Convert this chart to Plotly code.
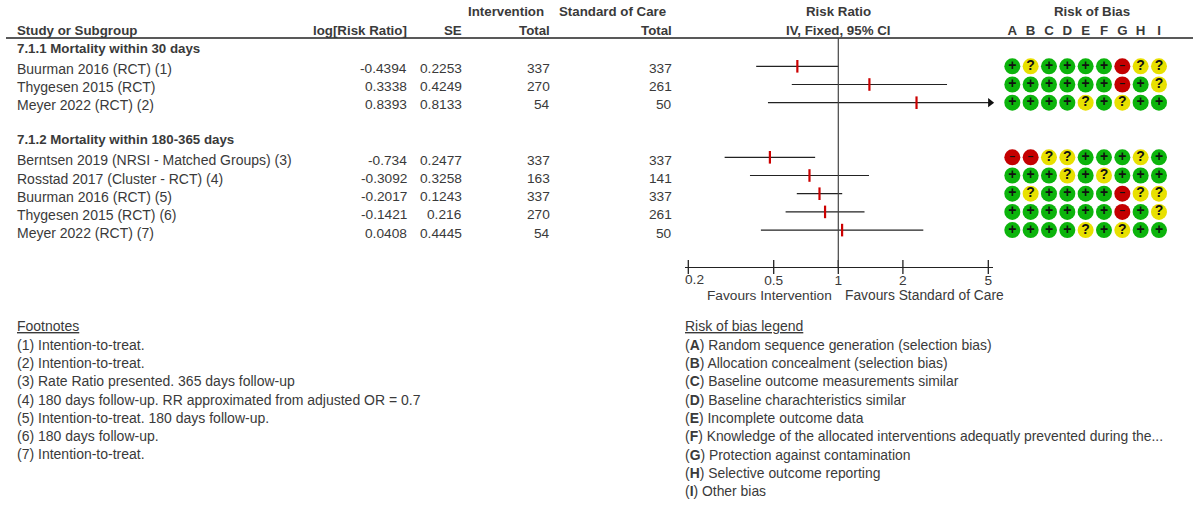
import math
import plotly.graph_objects as go

W, H = 1200, 505
TXT = "#3a3a3a"
FONT = "Liberation Sans"
FS = 14
FS_BOLD = 13.3
FS_NUM = 13.7

studies = ["Buurman 2016 (RCT) (1)", "Thygesen 2015 (RCT)", "Meyer 2022 (RCT) (2)",
           "Berntsen 2019 (NRSI - Matched Groups) (3)", "Rosstad 2017 (Cluster - RCT) (4)",
           "Buurman 2016 (RCT) (5)", "Thygesen 2015 (RCT) (6)", "Meyer 2022 (RCT) (7)"]
rows = [1, 2, 3, 6, 7, 8, 9, 10]
log_rr = [-0.4394, 0.3338, 0.8393, -0.734, -0.3092, -0.2017, -0.1421, 0.0408]
log_rr_text = ["-0.4394", "0.3338", "0.8393", "-0.734", "-0.3092", "-0.2017", "-0.1421", "0.0408"]
se = [0.2253, 0.4249, 0.8133, 0.2477, 0.3258, 0.1243, 0.216, 0.4445]
n_int = [337, 270, 54, 337, 163, 337, 270, 54]
n_soc = [337, 261, 50, 337, 141, 337, 261, 50]
sections = [(0, "7.1.1 Mortality within 30 days"), (5, "7.1.2 Mortality within 180-365 days")]
domains = ["A", "B", "C", "D", "E", "F", "G", "H", "I"]
rob = ["+?++++-??", "++++++-+?", "++++?+?++",
       "--??+++?+", "+++?+?+++", "+?++++-??", "++++++-+?", "++++?+?++"]
ticks = [0.2, 0.5, 1, 2, 5]
footnotes = ["(1) Intention-to-treat.", "(2) Intention-to-treat.",
             "(3) Rate Ratio presented. 365 days follow-up",
             "(4) 180 days follow-up. RR approximated from adjusted OR = 0.7",
             "(5) Intention-to-treat. 180 days follow-up.", "(6) 180 days follow-up.",
             "(7) Intention-to-treat."]
legend_items = [("A", "Random sequence generation (selection bias)"),
                ("B", "Allocation concealment (selection bias)"),
                ("C", "Baseline outcome measurements similar"),
                ("D", "Baseline charachteristics similar"),
                ("E", "Incomplete outcome data"),
                ("F", "Knowledge of the allocated interventions adequatly prevented during the..."),
                ("G", "Protection against contamination"),
                ("H", "Selective outcome reporting"),
                ("I", "Other bias")]

X_MAX_DRAW = 5.1
px_per_dec = (988.3 - 838.3) / math.log10(5)
F_L, F_R = 684.7, 993.3
xr = [(F_L - 838.3) / px_per_dec, (F_R - 838.3) / px_per_dec]
R0, RSTEP = 48.1, 18.2
yr = [(H - R0) / RSTEP, -R0 / RSTEP]
AX_ROW = (267 - R0) / RSTEP

fig = go.Figure()
# CI lines
for r, m, s in zip(rows, log_rr, se):
    lo, hi = math.exp(m - 1.96 * s), math.exp(m + 1.96 * s)
    fig.add_trace(go.Scatter(x=[lo, min(hi, X_MAX_DRAW)], y=[r, r], mode="lines",
                             line=dict(color="#222222", width=1.2), xaxis="x", yaxis="y",
                             showlegend=False, hoverinfo="skip", cliponaxis=False))
    if hi > X_MAX_DRAW:
        fig.add_trace(go.Scatter(x=[X_MAX_DRAW], y=[r], mode="markers",
                                 marker=dict(symbol="triangle-right", size=8, color="#111111"),
                                 xaxis="x", yaxis="y", showlegend=False, hoverinfo="skip",
                                 cliponaxis=False))
fig.add_trace(go.Scatter(x=[math.exp(m) for m in log_rr], y=rows, mode="markers",
                         marker=dict(symbol="line-ns", size=9,
                                     line=dict(color="#cc0000", width=2.2)),
                         xaxis="x", yaxis="y", showlegend=False, hoverinfo="skip", cliponaxis=False))
# Axis crossing ticks
fig.add_trace(go.Scatter(x=ticks, y=[AX_ROW] * len(ticks), mode="markers",
                         marker=dict(symbol="line-ns", size=10, line=dict(color="#222222", width=1.3)),
                         xaxis="x", yaxis="y", showlegend=False, hoverinfo="skip", cliponaxis=False))

# Risk of bias
style = {"+": ("#0cb40c", "+", 14), "?": ("#e8e000", "?", 14), "-": ("#c40000", "\u2212", 10)}
for sym, (col, label, fs) in style.items():
    xs, ys = [], []
    for r, line in zip(rows, rob):
        for d, c in zip(domains, line):
            if c == sym:
                xs.append(d)
                ys.append(r)
    fig.add_trace(go.Scatter(x=xs, y=ys, mode="markers+text", text=[label] * len(xs),
                             textposition="middle center",
                             textfont=dict(family=FONT, size=fs, color="#111111", weight="bold"),
                             marker=dict(symbol="circle", size=16, color=col),
                             xaxis="x2", yaxis="y", showlegend=False, hoverinfo="skip",
                             cliponaxis=False))

ann = []
def t(px, py, text, anchor="left", bold=False, size=None, color=TXT):
    s = f"<b>{text}</b>" if bold else text
    size = size or (FS_BOLD if bold else FS)
    shift = {"left": -2, "right": 2, "center": 0}[anchor]
    ann.append(dict(x=px / W, y=1 - py / H, xref="paper", yref="paper", text=s, showarrow=False,
                    xanchor=anchor, yanchor="middle", align=anchor, xshift=shift,
                    font=dict(family=FONT, size=size, color=color)))

# Headers
t(17, 30, "Study or Subgroup", bold=True)
t(407, 30, "log[Risk Ratio]", "right", True)
t(462, 30, "SE", "right", True)
t(544, 11, "Intervention", "right", True)
t(550, 30, "Total", "right", True)
t(666, 11, "Standard of Care", "right", True)
t(672, 30, "Total", "right", True)
t(838, 11, "Risk Ratio", "center", True)
t(838, 30, "IV, Fixed, 95% CI", "center", True)
t(1092, 11, "Risk of Bias", "center", True)

for r, label in sections:
    t(17, R0 + RSTEP * r + (0 if r == 0 else 0.8), label, bold=True)
for r, name, lr, s, a, b in zip(rows, studies, log_rr_text, se, n_int, n_soc):
    y = R0 + RSTEP * r + (2.2 if r < 5 else 3)
    t(17, y, name)
    t(407, y, lr, "right", size=FS_NUM)
    t(462, y, str(s), "right", size=FS_NUM)
    t(550, y, str(a), "right", size=FS_NUM)
    t(672, y, str(b), "right", size=FS_NUM)

t(707, 295, "Favours Intervention", size=13.7)
t(845, 295, "Favours Standard of Care", size=13.8)
t(694, 279, "0.2", "center", size=FS_NUM)

t(17, 326, "<u>Footnotes</u>")
for i, f in enumerate(footnotes):
    t(17, 345 + 18.2 * i, f)
t(685, 326, "<u>Risk of bias legend</u>")
for i, (k, v) in enumerate(legend_items):
    t(685, 344.7 + 18.3 * i, f"(<b>{k}</b>) {v}", size=13.9)

shapes = [
    dict(type="line", xref="paper", yref="paper", x0=6 / W, x1=1193 / W, y0=1 - 38 / H, y1=1 - 38 / H,
         line=dict(color="#222222", width=1.3)),
    dict(type="line", xref="x", yref="paper", x0=1, x1=1, y0=1 - 38 / H, y1=1 - 267 / H,
         line=dict(color="#444444", width=1.2)),
]

fig.update_layout(
    width=W, height=H, margin=dict(l=0, r=0, t=0, b=0), paper_bgcolor="white", plot_bgcolor="white",
    showlegend=False, annotations=ann, shapes=shapes,
    xaxis=dict(type="log", range=xr, domain=[F_L / W, F_R / W], anchor="free", position=1 - 267 / H,
               showgrid=False, zeroline=False, showline=True, linecolor="#222222", linewidth=1.3,
               tickmode="array", tickvals=ticks, ticktext=["", "0.5", "1", "2", "5"], ticks="",
               ticklabelstandoff=0, tickfont=dict(family=FONT, size=FS_NUM, color=TXT)),
    xaxis2=dict(type="category", categoryorder="array", categoryarray=domains, range=[-0.5, 8.5],
                domain=[1003.15 / W, 1168.15 / W], anchor="free", position=1 - 38 / H, side="top",
                showgrid=False, zeroline=False, showline=False, ticks="",
                tickfont=dict(family=FONT, size=FS_BOLD, color=TXT, weight="bold")),
    yaxis=dict(range=yr, domain=[0, 1], visible=False),
)
fig.write_html("out.html", config={"displayModeBar": False},
               post_script="document.body.style.margin='0';")
